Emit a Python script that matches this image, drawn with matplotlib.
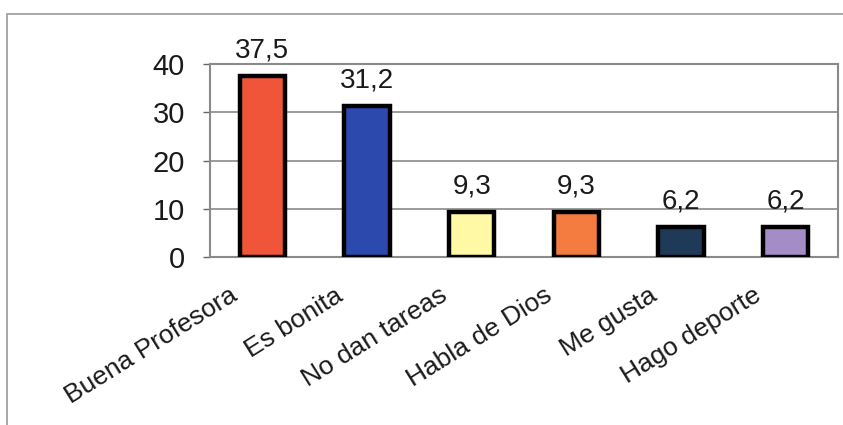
import matplotlib.pyplot as plt
import matplotlib.transforms as mtransforms
from matplotlib.patches import Rectangle

# Data
categories = ["Buena Profesora", "Es bonita", "No dan tareas",
              "Habla de Dios", "Me gusta", "Hago deporte"]
values = [37.5, 31.2, 9.3, 9.3, 6.2, 6.2]
value_labels = ["37,5", "31,2", "9,3", "9,3", "6,2", "6,2"]
colors = ["#F0553A", "#2C4AAE", "#FFF9A6", "#F47C40", "#1F3A58", "#A48DC6"]
yticks = [0, 10, 20, 30, 40]

plt.rcParams['font.family'] = ['Liberation Sans', 'DejaVu Sans']

fig = plt.figure(figsize=(8.43, 4.25), dpi=100)
fig.patch.set_facecolor("white")

# outer chart-area frame
fig.patches.append(Rectangle((7 / 843, -0.05), 1.0, (425 - 14) / 425 + 0.05,
                             transform=fig.transFigure, fill=False,
                             edgecolor="#9a9a9a", linewidth=1.2))

ax = fig.add_axes([210 / 843, 1 - 257 / 425, 628 / 843, (257 - 64) / 425])

x = range(len(categories))
ax.bar(x, values, width=0.43, color=colors, edgecolor="black", linewidth=3.2, zorder=3)

for i, (v, lab) in enumerate(zip(values, value_labels)):
    ax.text(i, v + 2.6, lab, ha="center", va="bottom", fontsize=20, color="#1a1a1a")

ax.set_xlim(-0.5, len(categories) - 0.5)
ax.set_ylim(0, 40)
ax.set_yticks(yticks)
ax.tick_params(axis="y", labelsize=21, length=5, width=1, color="#666666",
               labelcolor="#1a1a1a", pad=13)
ax.set_xticks(list(x))
ax.set_xticklabels(categories, rotation=32, ha="right", rotation_mode="anchor",
                   fontsize=19, color="#1a1a1a")
ax.tick_params(axis="x", length=0, pad=19)
shift = mtransforms.ScaledTranslation(-33 / 100, 0, fig.dpi_scale_trans)
for lbl in ax.get_xticklabels():
    lbl.set_transform(lbl.get_transform() + shift)

ax.yaxis.grid(True, color="#8a8a8a", linewidth=1.2, zorder=0)
ax.set_axisbelow(True)
for s in ax.spines.values():
    s.set_color("#8a8a8a")
    s.set_linewidth(1.5)

fig.savefig("out.png", dpi=100)
